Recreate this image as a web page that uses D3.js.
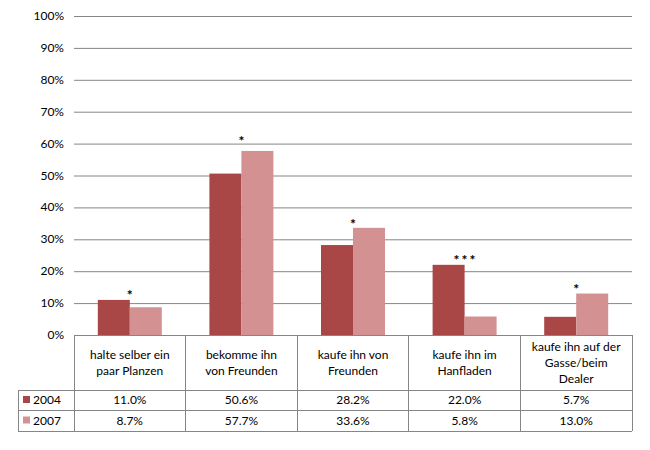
<!DOCTYPE html>
<html>
<head>
<meta charset="utf-8">
<script src="https://cdn.jsdelivr.net/npm/d3@7"></script>
<style>
body { margin: 0; background: #fff; }
text { font-family: Lato, "Liberation Sans", sans-serif; font-size: 12px; fill: #000; }
</style>
</head>
<body>
<svg id="chart" width="650" height="450"></svg>
<script>
const categories = [
	['halte selber ein', 'paar Planzen'],
	['bekomme ihn', 'von Freunden'],
	['kaufe ihn von', 'Freunden'],
	['kaufe ihn im', 'Hanfladen'],
	['kaufe ihn auf der', 'Gasse/beim', 'Dealer']
];
const seriesNames = ['2004', '2007'];
const values2004 = [11.0, 50.6, 28.2, 22.0, 5.7];
const values2007 = [8.7, 57.7, 33.6, 5.8, 13.0];
const starValues = [13.5, 61.8, 35.7, 24.5, 15.4];
const starCounts = [1, 1, 1, 3, 1];
const yTicks = [0, 10, 20, 30, 40, 50, 60, 70, 80, 90, 100];

const colors = ['#a84745', '#d39291'];
const gridColor = '#868686';
const plotLeft = 74, plotRight = 632, plotTop = 16, plotBottom = 335;
const legendLeft = 18;
const rowBottoms = [390, 410, 431];

const svg = d3.select('#chart');

const x = d3.scaleBand().domain(d3.range(categories.length)).range([plotLeft, plotRight]);
const y = d3.scaleLinear().domain([0, 100]).range([plotBottom, plotTop]);

// gridlines
svg.append('g')
	.selectAll('line')
	.data(yTicks)
	.join('line')
	.attr('x1', plotLeft).attr('x2', plotRight)
	.attr('y1', d => y(d) + 0.5).attr('y2', d => y(d) + 0.5)
	.attr('stroke', gridColor);

svg.append('g')
	.selectAll('text')
	.data(yTicks)
	.join('text')
	.attr('x', plotLeft - 10)
	.attr('y', d => y(d) + 4)
	.attr('text-anchor', 'end')
	.text(d => d + '%');

const barW = 32;
const series = [values2004, values2007];
series.forEach((vals, s) => {
	svg.append('g')
		.selectAll('rect')
		.data(vals)
		.join('rect')
		.attr('x', (d, i) => x(i) + x.bandwidth() / 2 - barW + s * barW)
		.attr('y', d => y(d))
		.attr('width', barW)
		.attr('height', d => plotBottom - y(d))
		.attr('fill', colors[s]);
});

// significance stars
starValues.forEach((v, i) => {
	const n = starCounts[i];
	d3.range(n).forEach(k => {
		svg.append('text')
			.attr('x', x(i) + x.bandwidth() / 2 + (k - (n - 1) / 2) * 8)
			.attr('y', y(v) + 8)
			.attr('text-anchor', 'middle')
			.style('font-size', '14px')
			.style('font-weight', 'bold')
			.text('*');
	});
});

// table
const tbl = svg.append('g').attr('stroke', gridColor).attr('shape-rendering', 'crispEdges');
tbl.append('line').attr('x1', plotLeft).attr('x2', plotLeft).attr('y1', plotBottom).attr('y2', rowBottoms[2]);
d3.range(categories.length).forEach(i => {
	tbl.append('line').attr('x1', x(i) + x.bandwidth()).attr('x2', x(i) + x.bandwidth())
		.attr('y1', plotBottom).attr('y2', rowBottoms[2]);
});
tbl.append('line').attr('x1', legendLeft).attr('x2', legendLeft).attr('y1', rowBottoms[0]).attr('y2', rowBottoms[2]);
rowBottoms.forEach(rb => {
	tbl.append('line').attr('x1', legendLeft).attr('x2', plotRight).attr('y1', rb + 0.5).attr('y2', rb + 0.5);
});

categories.forEach((lines, i) => {
	const cy = (plotBottom + rowBottoms[0]) / 2 - (lines.length - 1) * 8;
	svg.append('text')
		.attr('text-anchor', 'middle')
		.selectAll('tspan')
		.data(lines)
		.join('tspan')
		.attr('x', x(i) + x.bandwidth() / 2)
		.attr('y', (d, k) => cy + k * 16 + 4)
		.text(d => d);
});

series.forEach((vals, s) => {
	const mid = (rowBottoms[s] + rowBottoms[s + 1]) / 2;
	svg.append('rect').attr('x', 23).attr('y', mid - 4).attr('width', 7).attr('height', 7).attr('fill', colors[s]);
	svg.append('text').attr('x', 33).attr('y', mid + 4).text(seriesNames[s]);
	svg.append('g')
		.selectAll('text')
		.data(vals)
		.join('text')
		.attr('x', (d, i) => x(i) + x.bandwidth() / 2)
		.attr('y', mid + 4)
		.attr('text-anchor', 'middle')
		.text(d => d.toFixed(1) + '%');
});
</script>
</body>
</html>
